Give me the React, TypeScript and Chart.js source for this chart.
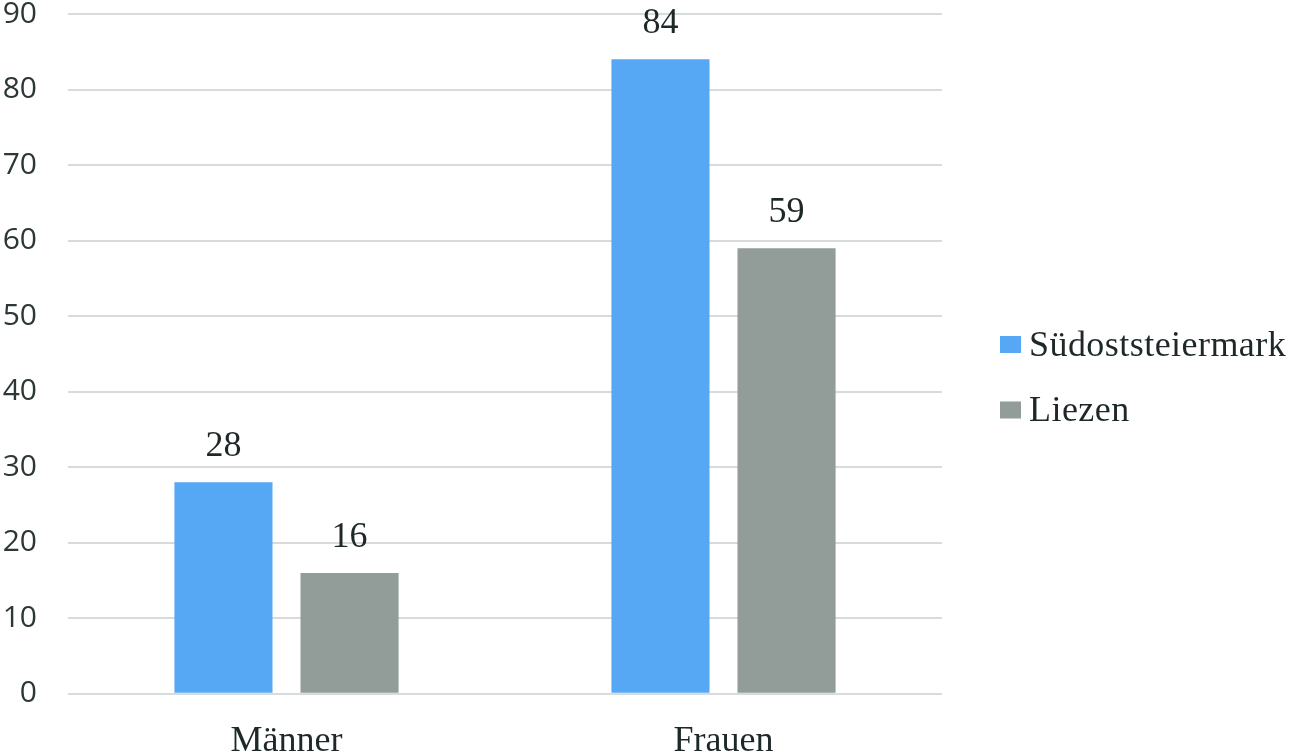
import React, { useEffect, useRef } from "react";
import { Chart, registerables } from "chart.js";

Chart.register(...registerables);

// ---- data ----
const categories = ["Männer", "Frauen"];
const seriesNames = ["Südoststeiermark", "Liezen"];
const suedoststeiermark = [28, 84];
const liezen = [16, 59];
const yMin = 0;
const yMax = 90;
const yStep = 10;

// ---- styles ----
const BLUE = "#56a8f4";
const GRAY = "#929c99";
const GRID = "#d5dcd9";
const TEXT = "#1e2828";
const TICK_TEXT = "#2c3837";
const SERIF = '"Liberation Serif", "Times New Roman", serif';
const SANS = '"Open Sans", "DejaVu Sans", sans-serif';

const valueLabels = {
  id: "valueLabels",
  afterDatasetsDraw(chart: any) {
    const ctx = chart.ctx;
    ctx.save();
    ctx.font = `36px ${SERIF}`;
    ctx.fillStyle = TEXT;
    ctx.textAlign = "center";
    ctx.textBaseline = "alphabetic";
    chart.data.datasets.forEach((ds: any, i: number) => {
      const meta = chart.getDatasetMeta(i);
      meta.data.forEach((el: any, j: number) => {
        ctx.fillText(String(ds.data[j]), el.x, el.y - 26);
      });
    });
    ctx.restore();
  },
};

const sideLegend = {
  id: "sideLegend",
  afterDraw(chart: any) {
    const ctx = chart.ctx;
    ctx.save();
    ctx.font = `36px ${SERIF}`;
    ctx.textAlign = "left";
    ctx.textBaseline = "alphabetic";
    try {
      (ctx as any).letterSpacing = "0.45px";
    } catch (e) {}
    chart.data.datasets.forEach((ds: any, i: number) => {
      const top = 336 + 32 + i * 65.5; // canvas is shifted up by 32px
      ctx.fillStyle = ds.backgroundColor;
      ctx.fillRect(1000, top, 21, 17);
      ctx.fillStyle = TEXT;
      ctx.fillText(ds.label, 1029, top + 19.5);
    });
    ctx.restore();
  },
};

export default function App() {
  const ref = useRef<HTMLCanvasElement | null>(null);

  useEffect(() => {
    if (!ref.current) return;
    const chart = new Chart(ref.current, {
      type: "bar",
      data: {
        labels: categories,
        datasets: [
          {
            label: seriesNames[0],
            data: suedoststeiermark,
            backgroundColor: BLUE,
            categoryPercentage: 0.577,
            barPercentage: 0.778,
          },
          {
            label: seriesNames[1],
            data: liezen,
            backgroundColor: GRAY,
            categoryPercentage: 0.577,
            barPercentage: 0.778,
          },
        ],
      },
      options: {
        animation: false,
        responsive: true,
        maintainAspectRatio: false,
        layout: { padding: { left: 0, right: 349, top: 0, bottom: 0 } },
        plugins: {
          legend: { display: false },
          tooltip: { enabled: false },
        },
        scales: {
          x: {
            grid: { display: false, drawTicks: false },
            border: { display: false },
            ticks: {
              color: TEXT,
              font: { family: SERIF, size: 36 },
              padding: 26,
            },
          },
          y: {
            min: yMin,
            max: yMax,
            grid: { color: GRID, lineWidth: 2, drawTicks: false },
            border: { display: false },
            ticks: {
              stepSize: yStep,
              color: TICK_TEXT,
              font: { family: SANS, size: 30, lineHeight: 1 },
              padding: 31,
            },
            afterFit: (scale: any) => {
              scale.width = 68;
            },
          },
        },
      },
      plugins: [valueLabels, sideLegend],
    });
    return () => chart.destroy();
  }, []);

  return (
    <div
      style={{
        position: "fixed",
        left: 0,
        top: 0,
        width: 1291,
        height: 752,
        overflow: "hidden",
        background: "#ffffff",
      }}
    >
      <div style={{ position: "absolute", left: 0, top: -32, width: 1291, height: 821 }}>
        <canvas ref={ref} />
      </div>
    </div>
  );
}
